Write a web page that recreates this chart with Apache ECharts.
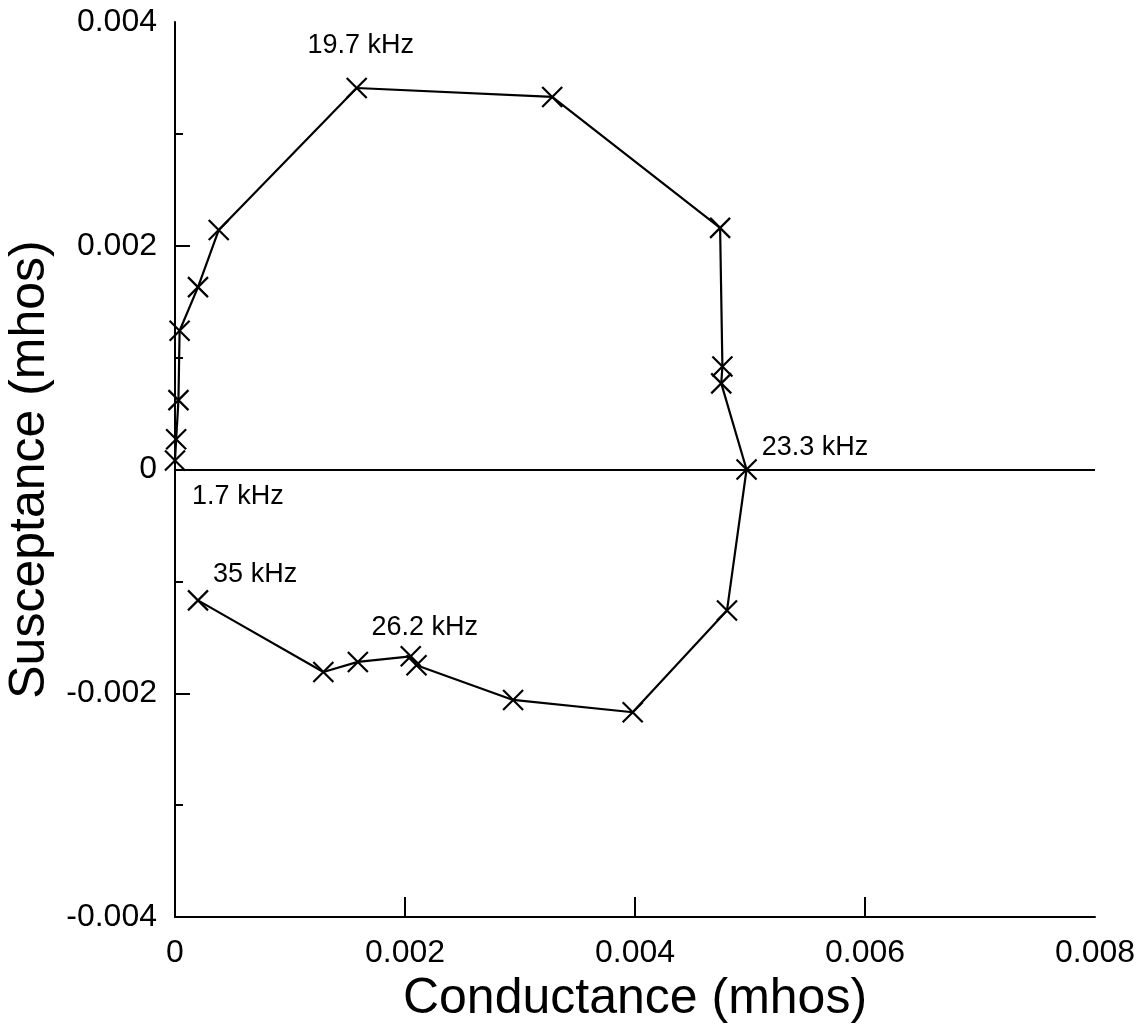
<!DOCTYPE html>
<html>
<head>
<meta charset="utf-8">
<script src="https://cdn.jsdelivr.net/npm/echarts@6/dist/echarts.min.js"></script>
<style>
  html, body { margin: 0; padding: 0; background: #fff; }
  #main { width: 1144px; height: 1032px; }
</style>
</head>
<body>
<div id="main"></div>
<script>
// conductance (mhos) and susceptance (mhos), in sweep order
var conductance = [0.00000, 0.00001, 0.00003, 0.00004, 0.00020, 0.00038, 0.00158,
  0.00328, 0.00474, 0.00476, 0.00475, 0.00497, 0.00480, 0.00398, 0.00294,
  0.00210, 0.00205, 0.00159, 0.00129, 0.00020];
var susceptance = [0.00008, 0.00027, 0.00062, 0.00124, 0.00163, 0.00214, 0.00341,
  0.00333, 0.00216, 0.00092, 0.00077, 0.00000, -0.00126, -0.00217, -0.00206,
  -0.00175, -0.00167, -0.00172, -0.00181, -0.00117];
// frequency notes put next to some points
var freqNotes = ['1.7 kHz', '', '', '', '', '', '19.7 kHz', '', '', '', '', '23.3 kHz',
  '', '', '', '', '26.2 kHz', '', '', '35 kHz'];
// tick marks that are drawn (ends of the axes have none)
var xTickAt = [0.002, 0.004, 0.006];
var yTickAt = [-0.002, 0, 0.002];

var font = 'Liberation Sans, Arial, Helvetica, sans-serif';

// where each note sits relative to its point
var notePlace = {
  '1.7 kHz': { position: 'right', distance: 6, offset: [0, 36] },
  '19.7 kHz': { position: 'top', distance: 18, offset: [4, 0] },
  '23.3 kHz': { position: 'right', distance: 4, offset: [0, -22] },
  '26.2 kHz': { position: 'top', distance: 4, offset: [14, 0] },
  '35 kHz': { position: 'right', distance: 4, offset: [0, -26] }
};

var points = conductance.map(function (g, i) {
  var item = { value: [g, susceptance[i]] };
  var note = freqNotes[i];
  if (note) {
    item.label = Object.assign({
      show: true,
      formatter: note,
      color: '#000',
      fontSize: 27,
      fontFamily: font
    }, notePlace[note]);
  }
  return item;
});

function tickText(v) {
  if (Math.abs(v) < 1e-9) return '0';
  return v.toFixed(3);
}

var myChart = echarts.init(document.getElementById('main'));
myChart.setOption({
  animation: false,
  backgroundColor: '#fff',
  grid: { left: 175, right: 49, top: 22, bottom: 115, outerBoundsMode: 'none' },
  xAxis: {
    type: 'value',
    min: 0,
    max: 0.008,
    interval: 0.002,
    name: 'Conductance (mhos)',
    nameLocation: 'middle',
    nameGap: 54,
    nameTextStyle: { fontSize: 50, fontFamily: font, color: '#000' },
    axisLine: { onZero: false, lineStyle: { color: '#000', width: 2 } },
    axisTick: { inside: true, length: 20, customValues: xTickAt, lineStyle: { color: '#000', width: 2 } },
    axisLabel: { formatter: tickText, fontSize: 32, fontFamily: font, color: '#000', margin: 20 },
    splitLine: { show: false }
  },
  yAxis: {
    type: 'value',
    min: -0.004,
    max: 0.004,
    interval: 0.002,
    name: 'Susceptance (mhos)',
    nameLocation: 'middle',
    nameGap: 114,
    nameTextStyle: { fontSize: 50, fontFamily: font, color: '#000' },
    axisLine: { show: true, onZero: false, lineStyle: { color: '#000', width: 2 } },
    axisTick: { show: true, inside: true, length: 15, customValues: yTickAt, lineStyle: { color: '#000', width: 2 } },
    minorTick: { show: true, splitNumber: 2, length: 8, lineStyle: { color: '#000', width: 2 } },
    axisLabel: { formatter: tickText, fontSize: 32, fontFamily: font, color: '#000', margin: 18 },
    splitLine: { show: false }
  },
  series: [{
    type: 'line',
    data: points,
    symbol: 'path://M0,0L10,10M10,0L0,10',
    symbolSize: 20,
    showAllSymbol: true,
    itemStyle: { color: '#000', borderColor: '#000', borderWidth: 2.2 },
    lineStyle: { color: '#000', width: 2.2 },
    markLine: {
      silent: true,
      symbol: 'none',
      label: { show: false },
      lineStyle: { color: '#000', width: 2, type: 'solid' },
      data: [[{ coord: [0, 0] }, { coord: [0.008, 0] }]]
    }
  }]
});
</script>
</body>
</html>
